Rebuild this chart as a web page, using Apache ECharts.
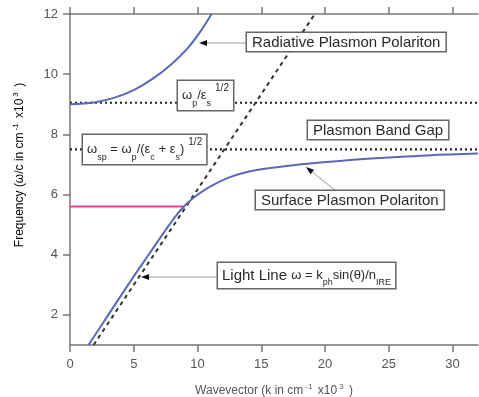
<!DOCTYPE html>
<html>
<head>
<meta charset="utf-8">
<script src="https://cdn.jsdelivr.net/npm/echarts@6/dist/echarts.min.js"></script>
<style>
  html, body { margin: 0; padding: 0; background: #fff; }
  #chart { width: 479px; height: 397px; }
</style>
</head>
<body>
<div id="chart"></div>
<script>
// values (k in cm-1 x10^3, omega/c in cm-1 x10^3)
const xTicks = [0, 5, 10, 15, 20, 25, 30]
const yTicks = [2, 4, 6, 8, 10, 12]
const radiativeK = [0, 2, 3.5, 5, 6.5, 8, 9.2, 10.2, 11.1]
const radiativeW = [9.0, 9.07, 9.22, 9.47, 9.85, 10.35, 10.85, 11.4, 12]
const surfaceK = [1.45, 3, 5, 6, 7.5, 8, 8.75, 9.5, 10.5, 11.5, 12.5, 13.5, 15, 17, 19, 22, 25, 28, 32]
const surfaceW = [1, 2, 3.28, 3.9, 4.82, 5.12, 5.52, 5.83, 6.14, 6.38, 6.57, 6.71, 6.84, 6.95, 7.04, 7.15, 7.23, 7.3, 7.36]
const lightK = [1.85, 19.2]
const lightW = [1, 12]
const bulkK = [0, 32]
const bulkW = [9.05, 9.05]
const spK = [0, 32]
const spW = [7.5, 7.5]
const markK = [0, 8.9]
const markW = [5.6, 5.6]

const pairs = (a, b) => a.map((v, i) => [v, b[i]])

const FONT = '"Liberation Sans", Arial, sans-serif'
const BLUE = '#5a68b8'
const AXIS = '#777'

const chart = echarts.init(document.getElementById('chart'))

// text box with border, white background
const box = (x, y, text, rich, pad) => ({
  type: 'text',
  x: x,
  y: y,
  z: 100,
  style: {
    text: text,
    rich: rich,
    font: '15px ' + FONT,
    fill: '#2a2a2a',
    align: 'left',
    verticalAlign: 'top',
    backgroundColor: '#fff',
    borderColor: '#666',
    borderWidth: 1.5,
    padding: pad || [2, 5, 1, 5]
  }
})

// thin grey line ending in a small black arrowhead
const arrow = (x1, y1, x2, y2) => {
  const dx = x2 - x1, dy = y2 - y1
  const len = Math.sqrt(dx * dx + dy * dy)
  const ux = dx / len, uy = dy / len
  const bx = x2 - ux * 8, by = y2 - uy * 8
  const px = -uy * 3, py = ux * 3
  return [
    { type: 'line', z: 99, shape: { x1: x1, y1: y1, x2: bx, y2: by }, style: { stroke: '#9a9a9a', lineWidth: 1 } },
    { type: 'polygon', z: 99, shape: { points: [[x2, y2], [bx + px, by + py], [bx - px, by - py]] }, style: { fill: '#111' } }
  ]
}

const formulaRich = {
  m: { fontSize: 13, fontFamily: FONT, color: '#2a2a2a', lineHeight: 25, verticalAlign: 'middle' },
  s: { fontSize: 9, fontFamily: FONT, color: '#2a2a2a', lineHeight: 9, verticalAlign: 'bottom' },
  u: { fontSize: 10, fontFamily: FONT, color: '#2a2a2a', lineHeight: 10, verticalAlign: 'top', padding: [0, 0, 0, 4] }
}

const lightRich = {
  b: { fontSize: 15, fontFamily: FONT, color: '#222', lineHeight: 23, verticalAlign: 'middle' },
  m: { fontSize: 13, fontFamily: FONT, color: '#2a2a2a', lineHeight: 23, verticalAlign: 'middle' },
  s: { fontSize: 9, fontFamily: FONT, color: '#2a2a2a', lineHeight: 9, verticalAlign: 'bottom' }
}

const option = {
  animation: false,
  grid: { left: 70, right: 1, top: 14, bottom: 52, containLabel: false, outerBoundsMode: 'none' },
  xAxis: [
    {
      type: 'value',
      min: 0,
      max: 32,
      interval: 5,
      splitLine: { show: false },
      axisLine: { lineStyle: { color: AXIS, width: 1.5 } },
      axisTick: { length: 7, lineStyle: { color: AXIS, width: 1.5 }, customValues: xTicks },
      axisLabel: { margin: 13, fontSize: 13, fontFamily: FONT, color: '#555', customValues: xTicks },
      name: '{a|Wavevector (k in cm}{u|-1}{a| x10}{u|3}{a| )}',
      nameLocation: 'middle',
      nameGap: 38,
      nameTextStyle: {
        rich: {
          a: { fontSize: 12, fontFamily: FONT, color: '#555', lineHeight: 16, verticalAlign: 'middle' },
          u: { fontSize: 8, fontFamily: FONT, color: '#555', lineHeight: 8, verticalAlign: 'top', padding: [0, 2, 0, 2] }
        }
      }
    },
    {
      type: 'value',
      position: 'top',
      min: 0,
      max: 32,
      interval: 5,
      splitLine: { show: false },
      axisLine: { lineStyle: { color: AXIS, width: 1.5 } },
      axisTick: { length: 7, lineStyle: { color: AXIS, width: 1.5 }, customValues: xTicks },
      axisLabel: { show: false }
    }
  ],
  yAxis: {
    type: 'value',
    min: 1,
    max: 12,
    interval: 1,
    splitLine: { show: false },
    axisLine: { show: true, lineStyle: { color: AXIS, width: 1.5 } },
    axisTick: { show: true, length: 7, lineStyle: { color: AXIS, width: 1.5 }, customValues: yTicks },
    axisLabel: { margin: 12, fontSize: 13, fontFamily: FONT, color: '#555', customValues: yTicks }
  },
  series: [
    {
      type: 'line', data: pairs(bulkK, bulkW), showSymbol: false, silent: true,
      lineStyle: { color: '#222', width: 2.2, type: [2, 3] }
    },
    {
      type: 'line', data: pairs(spK, spW), showSymbol: false, silent: true,
      lineStyle: { color: '#222', width: 2.2, type: [2, 3] }
    },
    {
      type: 'line', data: pairs(markK, markW), showSymbol: false, silent: true,
      lineStyle: { color: '#e8458a', width: 2 }
    },
    {
      type: 'line', data: pairs(lightK, lightW), showSymbol: false, silent: true,
      lineStyle: { color: '#333', width: 2, type: [4, 4] }
    },
    {
      type: 'line', data: pairs(radiativeK, radiativeW), smooth: 0.4, showSymbol: false, silent: true,
      lineStyle: { color: BLUE, width: 2 }
    },
    {
      type: 'line', data: pairs(surfaceK, surfaceW), smooth: 0.4, showSymbol: false, silent: true,
      lineStyle: { color: BLUE, width: 2 }
    }
  ],
  graphic: [
    {
      type: 'text',
      x: 20,
      y: 165,
      rotation: Math.PI / 2,
      z: 100,
      style: {
        text: '{a|Frequency (ω/c in cm}{u|-1}{a| x10}{u|3}{a| )}',
        align: 'center',
        verticalAlign: 'middle',
        rich: {
          a: { fontSize: 12, fontFamily: FONT, color: '#555', lineHeight: 16, verticalAlign: 'middle' },
          u: { fontSize: 8, fontFamily: FONT, color: '#555', lineHeight: 8, verticalAlign: 'top', padding: [0, 2, 0, 2] }
        }
      }
    },
    ...arrow(247, 43, 199, 43),
    ...arrow(336, 191, 306, 167),
    ...arrow(218, 277, 141, 277),
    box(247, 33, 'Radiative Plasmon Polariton'),
    box(308, 121, 'Plasmon Band Gap'),
    box(256, 191, 'Surface Plasmon Polariton'),
    box(178, 81, '{m|ω}{s|p}{m|/ε}{s|s}{u|1/2}', formulaRich, [2, 4, 2, 4]),
    box(83, 135, '{m|ω}{s|sp}{m| = ω}{s|p}{m|/(ε}{s|c}{m| + ε}{s|s}{m|)}{u|1/2}', formulaRich, [2, 4, 2, 4]),
    box(218, 263, '{b|Light Line }{m|ω = k}{s|ph}{m|sin(θ)/n}{s|IRE}', lightRich, [1, 4, 1, 4])
  ]
}

chart.setOption(option)
window.addEventListener('resize', () => chart.resize())
</script>
</body>
</html>
